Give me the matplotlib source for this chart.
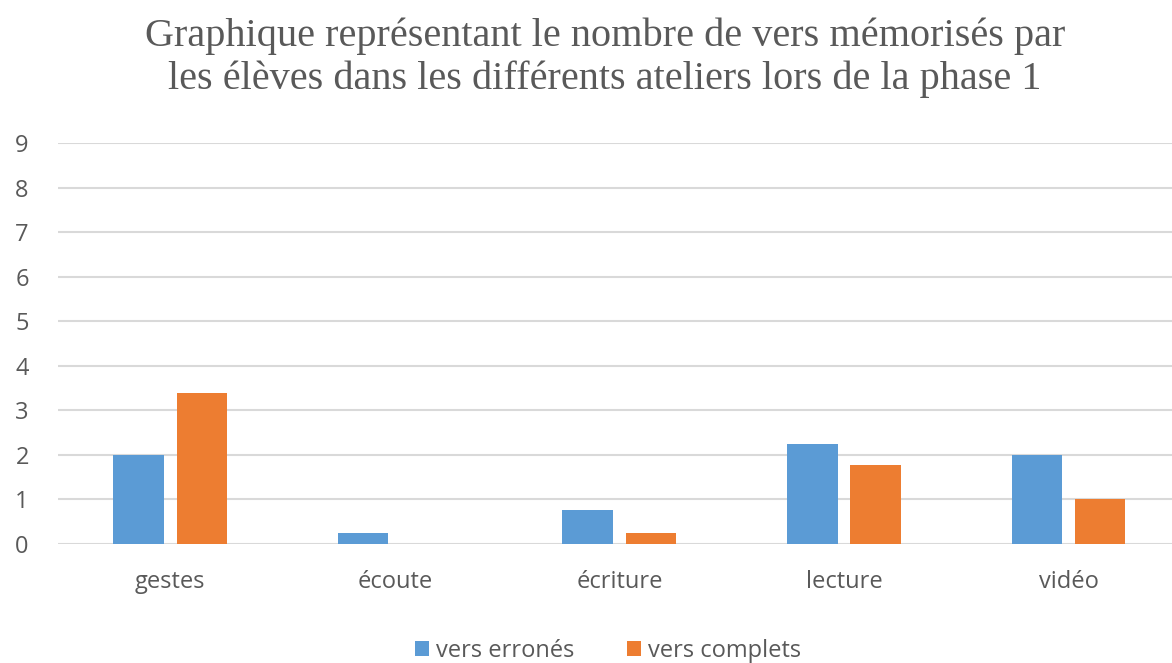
import matplotlib.pyplot as plt
import numpy as np

ateliers = ['gestes', 'écoute', 'écriture', 'lecture', 'vidéo']
vers_erronés = [2, 0.25, 0.77, 2.25, 2]
vers_complets = [3.4, 0, 0.25, 1.77, 1]

bleu = '#5b9bd5'
orange = '#ed7d31'
gris = '#595959'
police = 'Open Sans'

fig = plt.figure(figsize=(11.72, 6.63), dpi=100)
ax = fig.add_axes([0.0495, 0.1795, 1.0075 - 0.0495, 0.7843 - 0.1795])

x = np.arange(len(ateliers))
w = 0.225
ax.bar(x - 0.141, vers_erronés, w, color=bleu, label='vers erronés', zorder=3)
ax.bar(x + 0.141, vers_complets, w, color=orange, label='vers complets', zorder=3)

ax.set_xlim(-0.5, len(ateliers) - 0.5)
ax.set_ylim(0, 9)
ax.set_yticks(range(10))
ax.set_xticks(x)
ax.set_xticklabels(ateliers)
ax.yaxis.grid(True, color='#d9d9d9', linewidth=1.5, zorder=0)
for s in ax.spines.values():
    s.set_visible(False)
ax.tick_params(axis='both', length=0, labelsize=17, labelcolor=gris)
ax.tick_params(axis='x', pad=19)
ax.tick_params(axis='y', pad=21)
for lab in ax.get_xticklabels() + ax.get_yticklabels():
    lab.set_family(police)

fig.text(605 / 1172, 1 - 58 / 663,
         'Graphique représentant le nombre de vers mémorisés par\n'
         'les élèves dans les différents ateliers lors de la phase 1',
         ha='center', va='center', fontsize=29, color=gris,
         family='Liberation Serif', linespacing=1.2)

fig.legend(loc='center', bbox_to_anchor=(608 / 1172, 1 - 651 / 663), ncol=2,
           frameon=False, prop={'family': police, 'size': 17},
           labelcolor=gris, handlelength=0.6, handleheight=0.6,
           handletextpad=0.3, columnspacing=2.2)

fig.savefig('out.png', dpi=100)
